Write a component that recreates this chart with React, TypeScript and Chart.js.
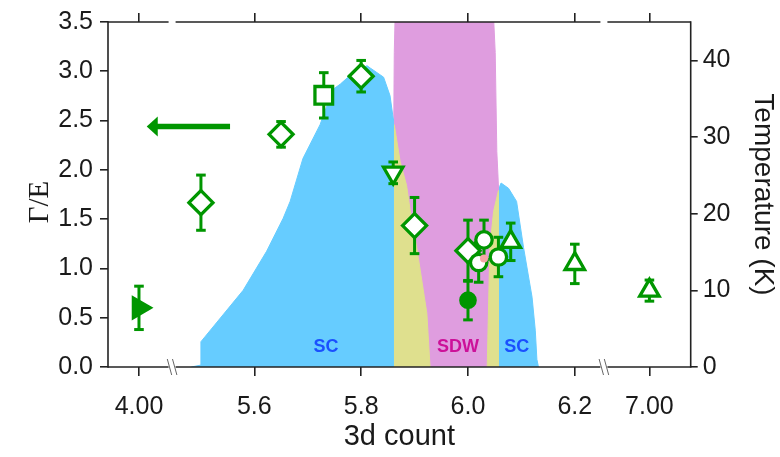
import React, { useEffect, useRef } from 'react';
import { Chart, registerables } from 'chart.js';

Chart.register(...registerables);

const FONT = "'Liberation Sans', Arial, Helvetica, sans-serif";
const SERIF = "'Liberation Serif', 'Times New Roman', serif";
const GREEN = '#009600';
const INK = '#1a1a1a';
const FRAME = '#222222';

// ---- x axis: 3d count, with breaks around the two outlying compositions ----
const xTickValues = [4.0, 5.6, 5.8, 6.0, 6.2, 7.0];
const xTickLabels = ['4.00', '5.6', '5.8', '6.0', '6.2', '7.00'];
const brokenCounts = [4.0, 7.0];
const brokenPositions = [5.384, 6.3397];
const axisBreaks = [5.446, 6.2545];
const xMin = 5.326;
const xMax = 6.417;

const toAxis = (c: number) => {
  const i = brokenCounts.indexOf(c);
  return i >= 0 ? brokenPositions[i] : c;
};

// ---- left axis: Γ/E ----
const yTicks = [0, 0.5, 1, 1.5, 2, 2.5, 3, 3.5];
const count3d = [4.0, 5.5, 5.65, 5.73, 5.8, 5.86, 5.9, 6.0, 6.0, 6.02, 6.03, 6.08, 6.057, 6.2, 7.0];
const gammaE = [0.6, 1.667, 2.36, 2.756, 2.95, 1.97, 1.435, 1.18, 0.678, 1.06, 1.29, 1.27, 1.116, 1.046, 0.775];
const gammaErr = [0.22, 0.28, 0.13, 0.23, 0.16, 0.11, 0.285, 0.31, 0.2, 0.2, 0.2, 0.19, 0.2, 0.2, 0.107];

// marker styling, one entry per sample
const markerShape = ['triangle', 'rectRot', 'rectRot', 'rect', 'rectRot', 'triangle', 'rectRot', 'rectRot',
  'circle', 'circle', 'circle', 'triangle', 'circle', 'triangle', 'triangle'];
const markerRotation = [90, 0, 0, 0, 0, 180, 0, 0, 0, 0, 0, 0, 0, 0, 0];
const markerFilled = [true, false, false, false, false, false, false, false, true, false, false, false, false, false, false];
const shapeRadius: Record<string, number> = { triangle: 11.2, rectRot: 12, rect: 12.5, circle: 8.2 };

// reference point (no error bar)
const refCount = [6.03];
const refGamma = [1.1];

// ---- right axis: temperature phase regions (K) ----
const tTicks = [0, 10, 20, 30, 40];
const scLeftX = [5.482, 5.5, 5.5, 5.579, 5.623, 5.654, 5.667, 5.691, 5.723, 5.747, 5.761, 5.785, 5.811, 5.817, 5.842, 5.854, 5.86, 5.86];
const scLeftT = [0, 0.25, 3.3, 10.0, 15.1, 19.4, 21.6, 27.2, 31.6, 36.2, 36.9, 38.4, 39.3, 39.0, 37.8, 35.4, 32.4, 0];
const sdwX = [5.861, 5.861, 5.862, 5.864, 6.047, 6.051, 6.054, 6.057, 6.057];
const sdwT = [0, 32, 41, 47, 47, 41, 28.1, 23.7, 0];
const coexLeftX = [5.856, 5.856, 5.862, 5.873, 5.885, 5.892, 5.904, 5.923, 5.929];
const coexLeftT = [0, 31.0, 31.6, 26.8, 23.7, 20.3, 15.6, 7.0, 0];
const coexRightX = [6.036, 6.041, 6.048, 6.057, 6.061, 6.061];
const coexRightT = [0, 15.6, 20.3, 23.0, 23.0, 0];
const scRightX = [6.059, 6.059, 6.062, 6.076, 6.091, 6.104, 6.12, 6.126, 6.129, 6.132];
const scRightT = [0, 23.5, 24.0, 23.3, 21.6, 15.6, 9.1, 4.8, 1.0, 0];

const regionLabels = ['SC', 'SDW', 'SC'];
const regionLabelX = [5.734, 5.9815, 6.0914];
const regionLabelT = [2.55, 2.6, 2.6];
const regionLabelColor = ['#1a50ff', '#cc1199', '#1a50ff'];

// arrow pointing at the Γ/E axis
const arrowTail = 5.5545;
const arrowTip = 5.3985;
const arrowLevel = 2.44;

const region = (label: string, xs: number[], ts: number[], color: string, order: number) => ({
  type: 'line' as const,
  label,
  data: xs.map((x, i) => ({ x, y: ts[i] })),
  xAxisID: 'x',
  yAxisID: 'y2',
  fill: 'origin',
  backgroundColor: color,
  borderColor: color,
  borderWidth: 1,
  pointRadius: 0,
  tension: 0,
  order,
});

const line = (ctx: CanvasRenderingContext2D, x1: number, y1: number, x2: number, y2: number) => {
  ctx.beginPath();
  ctx.moveTo(x1, y1);
  ctx.lineTo(x2, y2);
  ctx.stroke();
};

const decorations = {
  id: 'decorations',
  beforeDatasetDraw(chart: any, args: any) {
    if (chart.data.datasets[args.index].label !== 'Γ/E') return;
    const { ctx, scales } = chart;
    const xs = scales.x;
    const ys = scales.y;
    ctx.save();
    ctx.strokeStyle = GREEN;
    ctx.lineWidth = 3;
    count3d.forEach((c, i) => {
      const px = xs.getPixelForValue(toAxis(c));
      const top = ys.getPixelForValue(gammaE[i] + gammaErr[i]);
      const bot = ys.getPixelForValue(gammaE[i] - gammaErr[i]);
      line(ctx, px, top, px, bot);
      line(ctx, px - 4.8, top, px + 4.8, top);
      line(ctx, px - 4.8, bot, px + 4.8, bot);
    });
    ctx.restore();
  },
  afterDatasetsDraw(chart: any) {
    const { ctx, scales } = chart;
    const xs = scales.x;
    const ys = scales.y;
    const ts = scales.y2;
    ctx.save();
    ctx.font = `bold 18px ${FONT}`;
    ctx.textAlign = 'center';
    ctx.textBaseline = 'middle';
    regionLabels.forEach((t, i) => {
      ctx.fillStyle = regionLabelColor[i];
      ctx.fillText(t, xs.getPixelForValue(regionLabelX[i]), ts.getPixelForValue(regionLabelT[i]));
    });
    // arrow
    const x1 = xs.getPixelForValue(arrowTail);
    const x2 = xs.getPixelForValue(arrowTip);
    const yy = ys.getPixelForValue(arrowLevel);
    ctx.strokeStyle = GREEN;
    ctx.fillStyle = GREEN;
    ctx.lineWidth = 5.5;
    line(ctx, x1, yy, x2 + 8, yy);
    ctx.beginPath();
    ctx.moveTo(x2, yy);
    ctx.lineTo(x2 + 11, yy - 10);
    ctx.lineTo(x2 + 11, yy + 10);
    ctx.closePath();
    ctx.fill();
    ctx.restore();
  },
  afterDraw(chart: any) {
    const { ctx, chartArea: a, scales } = chart;
    const bx = axisBreaks.map((b) => scales.x.getPixelForValue(b));
    ctx.save();
    ctx.strokeStyle = FRAME;
    ctx.lineWidth = 1.6;
    line(ctx, a.left, a.top - 0.8, a.left, a.bottom + 0.8);
    line(ctx, a.right, a.top - 0.8, a.right, a.bottom + 0.8);
    for (const y of [a.top, a.bottom]) {
      line(ctx, a.left, y, bx[0] - 3.5, y);
      line(ctx, bx[0] + 3.5, y, bx[1] - 3.5, y);
      line(ctx, bx[1] + 3.5, y, a.right, y);
    }
    ctx.strokeStyle = '#666';
    ctx.lineWidth = 1;
    for (const b of bx) {
      for (const d of [-2.6, 2.6]) {
        line(ctx, b + d - 2.2, a.bottom - 8, b + d + 2.2, a.bottom + 8);
      }
    }
    // left axis title
    ctx.fillStyle = INK;
    ctx.font = `29px ${SERIF}`;
    ctx.textAlign = 'center';
    ctx.textBaseline = 'middle';
    ctx.translate(40, 202);
    ctx.rotate(-Math.PI / 2);
    ctx.fillText('Γ/E', 0, 0);
    ctx.restore();
  },
};

const xTicksOnAxis = (scale: any) => {
  scale.ticks = xTickValues.map((v) => ({ value: toAxis(v) }));
};

const frameGrid = (len: number) => ({
  drawOnChartArea: false,
  drawTicks: true,
  tickLength: len,
  color: FRAME,
  lineWidth: 1.6,
});

export default function App() {
  const ref = useRef<HTMLCanvasElement>(null);

  useEffect(() => {
    const chart = new Chart(ref.current as HTMLCanvasElement, {
      type: 'scatter',
      data: {
        datasets: [
          {
            type: 'scatter',
            label: 'reference',
            data: refCount.map((c, i) => ({ x: toAxis(c), y: refGamma[i] })),
            xAxisID: 'x',
            yAxisID: 'y',
            pointRadius: 4,
            pointBackgroundColor: '#f4a6a6',
            pointBorderWidth: 0,
            order: -1,
          },
          {
            type: 'scatter',
            label: 'Γ/E',
            data: count3d.map((c, i) => ({ x: toAxis(c), y: gammaE[i] })),
            xAxisID: 'x',
            yAxisID: 'y',
            pointStyle: markerShape as any,
            rotation: markerRotation,
            pointRadius: markerShape.map((s, i) => (markerFilled[i] && s === 'circle' ? 7.2 : shapeRadius[s])),
            pointBackgroundColor: markerFilled.map((f) => (f ? GREEN : '#ffffff')),
            pointBorderColor: GREEN,
            pointBorderWidth: 3.3,
            order: 1,
          },
          region('SC (low)', scLeftX, scLeftT, '#66ccff', 2),
          region('SC (high)', scRightX, scRightT, '#66ccff', 2),
          region('SC+SDW (low)', coexLeftX, coexLeftT, '#dfe08e', 3),
          region('SC+SDW (high)', coexRightX, coexRightT, '#dfe08e', 3),
          region('SDW', sdwX, sdwT, '#df9ddf', 4),
        ] as any,
      },
      options: {
        animation: false,
        responsive: true,
        maintainAspectRatio: false,
        events: [],
        layout: { padding: 0 },
        plugins: { legend: { display: false }, tooltip: { enabled: false } },
        scales: {
          x: {
            type: 'linear',
            position: 'bottom',
            min: xMin,
            max: xMax,
            afterBuildTicks: xTicksOnAxis,
            ticks: {
              callback: (_v: any, i: number) => xTickLabels[i],
              font: { size: 25, family: FONT },
              color: INK,
              padding: 16,
              maxRotation: 0,
              autoSkip: false,
            },
            grid: frameGrid(9),
            border: { display: false },
            title: {
              display: true,
              text: '3d count',
              font: { size: 29, family: FONT },
              color: INK,
              padding: { top: 0, bottom: 3 },
            },
            afterFit: (s: any) => { s.height = 90; },
          },
          xTop: {
            type: 'linear',
            position: 'top',
            min: xMin,
            max: xMax,
            afterBuildTicks: xTicksOnAxis,
            ticks: { callback: () => '', padding: 0, autoSkip: false },
            grid: frameGrid(9),
            border: { display: false },
            afterFit: (s: any) => { s.height = 19; },
          },
          y: {
            type: 'linear',
            position: 'left',
            min: 0,
            max: 3.5,
            afterBuildTicks: (s: any) => { s.ticks = yTicks.map((v) => ({ value: v })); },
            ticks: {
              callback: (v: any) => Number(v).toFixed(1),
              font: { size: 25, family: FONT },
              color: INK,
              padding: 7,
            },
            grid: frameGrid(8),
            border: { display: false },
            afterFit: (s: any) => { s.width = 108; },
          },
          y2: {
            type: 'linear',
            position: 'right',
            min: 0,
            max: 45,
            afterBuildTicks: (s: any) => { s.ticks = tTicks.map((v) => ({ value: v })); },
            ticks: {
              font: { size: 25, family: FONT },
              color: INK,
              padding: 5,
            },
            grid: frameGrid(7),
            border: { display: false },
            title: {
              display: true,
              text: 'Temperature (K)',
              font: { size: 28, family: FONT },
              color: INK,
              padding: 0,
            },
            afterFit: (s: any) => { s.width = 89.3; },
          },
        },
      } as any,
      plugins: [decorations],
    });
    return () => chart.destroy();
  }, []);

  return (
    <div style={{ position: 'fixed', left: 0, top: 0, width: 780, height: 457, background: '#ffffff' }}>
      <canvas ref={ref} />
    </div>
  );
}
